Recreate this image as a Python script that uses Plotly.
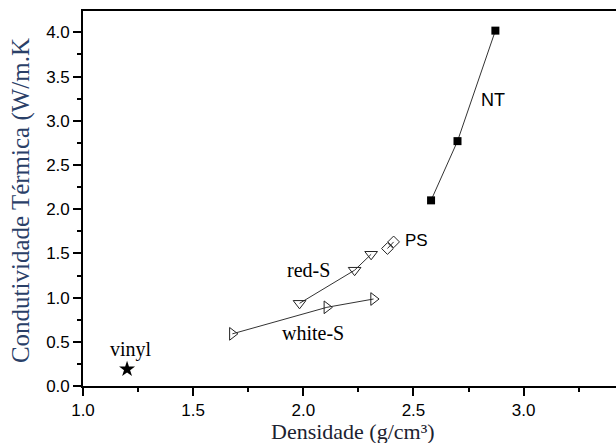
import plotly.graph_objects as go

# Thermal conductivity vs. density for the sample groups
nt_density = [2.58, 2.70, 2.872]
nt_conductivity = [2.10, 2.77, 4.02]

ps_density = [2.382, 2.41]
ps_conductivity = [1.555, 1.63]

red_density = [1.983, 2.233, 2.308]
red_conductivity = [0.935, 1.31, 1.49]

white_density = [1.678, 2.107, 2.319]
white_conductivity = [0.59, 0.89, 0.984]

vinyl_density = [1.20]
vinyl_conductivity = [0.19]

x_range = [1.0, 3.4195]
y_range = [0.0, 4.242]

SANS = "Liberation Sans, Arial, sans-serif"
SERIF = "Liberation Serif, Times New Roman, serif"
LINE = "#333333"

fig = go.Figure()

fig.add_trace(go.Scatter(
    x=nt_density, y=nt_conductivity, mode="lines+markers",
    line=dict(color=LINE, width=1),
    marker=dict(symbol="square", size=8, color="black"),
    cliponaxis=False, showlegend=False))

fig.add_trace(go.Scatter(
    x=ps_density, y=ps_conductivity, mode="lines+markers",
    line=dict(color=LINE, width=1),
    marker=dict(symbol="diamond-open", size=9, color="#222222",
                line=dict(width=1)),
    showlegend=False))

fig.add_trace(go.Scatter(
    x=red_density, y=red_conductivity, mode="lines+markers",
    line=dict(color=LINE, width=1),
    marker=dict(symbol="triangle-down-open", size=11, color="#222222",
                line=dict(width=1)),
    showlegend=False))

fig.add_trace(go.Scatter(
    x=white_density, y=white_conductivity, mode="lines+markers",
    line=dict(color=LINE, width=1),
    marker=dict(symbol="triangle-right-open", size=11, color="#222222",
                line=dict(width=1)),
    showlegend=False))

fig.add_trace(go.Scatter(
    x=vinyl_density, y=vinyl_conductivity, mode="markers",
    marker=dict(symbol="star", size=12, color="black"),
    showlegend=False))

# Series labels placed next to their data
labels = [
    ("NT", 2.86, 3.235, SANS, 18),
    ("PS", 2.516, 1.65, SANS, 17),
    ("red-S", 2.023, 1.31, SERIF, 20),
    ("white-S", 2.042, 0.60, SERIF, 20),
    ("vinyl", 1.216, 0.41, SERIF, 20),
]
for text, lx, ly, fam, size in labels:
    fig.add_annotation(x=lx, y=ly, text=text, showarrow=False,
                       xanchor="center", yanchor="middle",
                       font=dict(family=fam, size=size, color="black"))

# Axis titles
fig.add_annotation(xref="paper", yref="paper", x=-0.115, y=0.495,
                   text="Condutividade Térmica (W/m.K", textangle=-90,
                   showarrow=False, xanchor="center", yanchor="middle",
                   font=dict(family=SERIF, size=25, color="#2a4068"))
fig.add_annotation(xref="paper", yref="paper", x=0.506, y=-0.121,
                   text="Densidade (g/cm³)", showarrow=False,
                   xanchor="center", yanchor="middle",
                   font=dict(family=SERIF, size=22, color="#1c2230"))

axis_common = dict(
    showline=True, linecolor="black", linewidth=1.6,
    ticks="outside", ticklen=8, tickwidth=1.5, tickcolor="black",
    showgrid=False, zeroline=False,
    tickfont=dict(family=SANS, size=17, color="black"),
)

fig.update_xaxes(range=x_range, tick0=1.0, dtick=0.5, tickformat=".1f",
                 mirror=True,
                 minor=dict(ticks="outside", ticklen=4, dtick=0.25,
                            tickwidth=1.5, tickcolor="black"),
                 **axis_common)
fig.update_yaxes(range=y_range, tick0=0.0, dtick=0.5, tickformat=".1f",
                 minor=dict(ticks="outside", ticklen=4, dtick=0.25,
                            tickwidth=1.5, tickcolor="black"),
                 **axis_common)

fig.update_layout(
    width=616, height=443,
    margin=dict(l=82.5, r=0, t=11, b=57),
    paper_bgcolor="white", plot_bgcolor="white",
)

fig.write_html("out.html")
